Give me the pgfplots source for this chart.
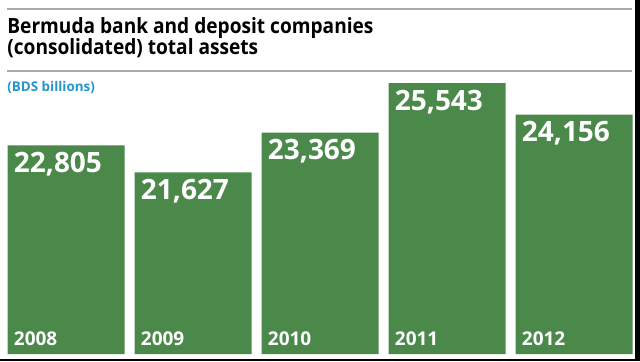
\documentclass[border=0pt]{standalone}
\usepackage{pgfplots}
\pgfplotsset{compat=1.18}
\usepackage{fontspec}
\setmainfont{Open Sans}
\newfontfamily\titlefont[FakeStretch=0.91]{Open Sans}
\definecolor{bargreen}{RGB}{74,137,74}
\definecolor{subblue}{RGB}{38,150,200}
\definecolor{rulegray}{RGB}{170,170,170}
\begin{document}
\begin{tikzpicture}
\path[use as bounding box] (0pt,0pt) rectangle (320pt,-180.5pt);
\fill[white] (0pt,0pt) rectangle (320pt,-180.5pt);
\fill[black] (317.5pt,0pt) rectangle (320pt,-180.5pt);
\fill[black] (0pt,-179.5pt) rectangle (320pt,-180.5pt);
\draw[rulegray, line width=0.75pt] (3.5pt,-4.5pt) -- (316pt,-4.5pt);
\draw[rulegray, line width=0.75pt] (3.5pt,-35.5pt) -- (316pt,-35.5pt);
\node[anchor=base west, inner sep=0pt, font=\titlefont\bfseries\fontsize{10.5pt}{12pt}\selectfont] at (3.5pt,-16.5pt) {Bermuda bank and deposit companies};
\node[anchor=base west, inner sep=0pt, font=\titlefont\bfseries\fontsize{10.5pt}{12pt}\selectfont] at (3.5pt,-27pt) {(consolidated) total assets};
\node[anchor=base west, inner sep=0pt, text=subblue, font=\bfseries\fontsize{6.7pt}{8pt}\selectfont] at (3.5pt,-45.5pt) {(BDS billions)};
\begin{axis}[
  at={(3.5pt,-177pt)}, anchor=south west,
  scale only axis, width=313pt, height=137pt,
  xmin=-0.4646, xmax=4.4646, ymin=13649, ymax=25677,
  axis line style={draw=none}, major tick length=0pt, ytick=\empty,
  clip=false,
  ybar, bar width=58.5pt, bar shift=0pt,
  xtick={0,1,2,3,4}, xticklabels={2008,2009,2010,2011,2012},
  xticklabel style={anchor=south west, inner sep=0pt, xshift=-26.25pt, yshift=4pt, text=white, font=\bfseries\fontsize{9.5pt}{11pt}\selectfont},
  axis on top,
  point meta=explicit symbolic,
  nodes near coords,
  every node near coord/.append style={anchor=north west, inner sep=0pt, xshift=-26.25pt, yshift=-3.25pt, text=white, font=\bfseries\fontsize{14pt}{16pt}\selectfont},
]
\addplot[fill=bargreen, draw=none] coordinates {
  (0,22805) [{22,805}]
  (1,21627) [{21,627}]
  (2,23369) [{23,369}]
  (3,25543) [{25,543}]
  (4,24156) [{24,156}]
};
\end{axis}
\end{tikzpicture}
\end{document}
